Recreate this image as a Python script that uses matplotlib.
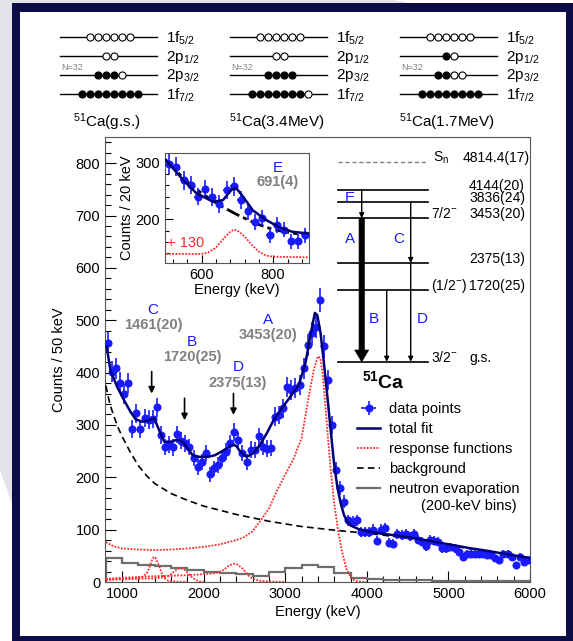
import numpy as np
import matplotlib
matplotlib.use("Agg")
import matplotlib.pyplot as plt
from matplotlib.patches import Rectangle, Polygon
from matplotlib.lines import Line2D
from matplotlib.ticker import MultipleLocator

plt.rcParams["font.family"] = ["Liberation Sans", "DejaVu Sans"]
plt.rcParams["mathtext.default"] = "regular"

W, H = 573, 641

# ---------------------------------------------------------------------------
# 51Ca neutron spectrum, 50 keV bins
# ---------------------------------------------------------------------------
energy = np.arange(825, 6000, 50)
counts = [457, 402, 408, 381, 359, 380, 293, 322, 293, 313, 310, 311, 334, 281,
          258, 262, 257, 282, 270, 265, 258, 236, 220, 230, 246, 206, 217, 223,
          236, 249, 265, 287, 271, 246, 230, 253, 252, 278, 258, 255, 256, 316,
          319, 332, 373, 367, 370, 376, 408, 453, 475, 488, 539, 450, 386, 300,
          214, 179, 153, 118, 115, 118, 96, 96, 96, 100, 79, 100, 103, 75, 73,
          92, 89, 92, 87, 92, 81, 77, 68, 80, 79, 77, 64, 64, 67, 64, 58, 48,
          53, 53, 54, 53, 54, 51, 51, 45, 42, 53, 54, 48, 32, 48, 39, 42]

fit_e = [810, 856, 938, 1021, 1103, 1165, 1247, 1330, 1392, 1454, 1515, 1598,
         1680, 1742, 1804, 1866, 1948, 2052, 2134, 2217, 2299, 2360, 2400, 2443,
         2526, 2608, 2690, 2773, 2856, 2959, 3062, 3165, 3247, 3309, 3363, 3392,
         3433, 3474, 3516, 3557, 3598, 3640, 3680, 3720, 3760, 3800, 3900, 4000,
         4250, 4500, 4750, 5000, 5250, 5500, 5750, 6000]
fit_c = [450, 405, 373, 348, 325, 311, 306, 309, 313, 290, 268, 268,
         272, 268, 255, 242, 239, 239, 242, 249, 257, 262, 260, 250,
         239, 246, 262, 284, 309, 332, 354, 376, 418, 472, 514, 510,
         475, 418, 354, 290, 226, 180, 150, 128, 115, 108, 101, 97,
         91, 86, 79, 72, 65, 59, 52, 46]

bg_e = [800, 850, 900, 950, 1000, 1100, 1200, 1300, 1400, 1600, 1800, 2000,
        2400, 2800, 3200, 3600, 4000, 4500, 5000, 5500, 6000]
bg_c = [375, 340, 316, 295, 278, 248, 222, 203, 188, 169, 156, 145,
        129, 116, 106, 99, 93, 84, 70, 58, 45]

# response functions for transitions A, C, B, D
respA_e = [800, 900, 1000, 1200, 1400, 1600, 1800, 2000, 2200, 2400, 2500, 2600,
           2700, 2800, 2900, 3000, 3100, 3150, 3200, 3250, 3300, 3350, 3400,
           3430, 3460, 3500, 3550, 3600, 3650, 3700, 3750, 3800, 3850, 3900, 4000]
respA_c = [76, 68, 64, 62, 61, 62, 64, 67, 72, 80, 86, 97,
           118, 140, 175, 205, 235, 255, 275, 320, 365, 405, 431,
           428, 395, 320, 225, 150, 95, 55, 25, 10, 3, 1, 0]
respC_e = [800, 1000, 1200, 1250, 1300, 1340, 1370, 1390, 1410, 1450, 1490,
           1530, 1570, 1650, 1800]
respC_c = [5, 6, 8, 10, 16, 30, 44, 48, 46, 32, 15, 6, 2, 1, 0]
respB_e = [800, 1000, 1200, 1400, 1550, 1600, 1650, 1700, 1730, 1760, 1800,
           1850, 1900, 1950, 2000]
respB_c = [4, 5, 6, 7, 10, 15, 22, 26, 26, 24, 18, 10, 4, 1, 0]
respD_e = [800, 1000, 1400, 1800, 2000, 2100, 2200, 2250, 2300, 2350, 2380,
           2420, 2480, 2550, 2600, 2700, 2800, 3000]
respD_c = [6, 8, 11, 13, 15, 16, 19, 24, 30, 34, 35, 33, 25, 12, 6, 2, 1, 0]

# neutron evaporation, 200 keV bins
evap_edges = np.arange(800, 6001, 200)
evap_c = [45, 37, 33, 30, 26, 22, 20, 17, 15, 12, 20, 27, 33, 28, 18, 8,
          5, 4, 3, 3, 2, 2, 2, 2, 1, 1]

# peak labels: letter, energy text, label position, arrow position
peak_names = ["C", "B", "D", "A"]
peak_text = ["1461(20)", "1720(25)", "2375(13)", "3453(20)"]
peak_lab_e = [1378, 1857, 2420, 2788]
peak_lab_c = [519, 458, 410, 500]
arrow_e = [1362, 1765, 2365]
arrow_top = [402, 351, 360]
arrow_tip = [360, 309, 319]

# ---------------------------------------------------------------------------
# inset: low-energy region, 20 keV bins
# ---------------------------------------------------------------------------
in_energy = np.arange(510, 900, 20)
in_counts = [298, 293, 269, 261, 240, 253, 239, 227, 251, 258, 234, 214, 196,
             202, 172, 190, 182, 161, 161, 172]
in_fit_e = [500, 549, 586, 632, 660, 683, 697, 716, 743, 780, 817, 854, 900]
in_fit_c = [305, 269, 246, 231, 234, 252, 255, 240, 216, 199, 186, 178, 175]
in_bg_e = [500, 550, 600, 650, 700, 750, 800, 850, 900]
in_bg_c = [305, 272, 246, 225, 208, 193, 182, 176, 172]
in_resp_e = [500, 600, 620, 640, 660, 680, 690, 700, 720, 740, 760, 780, 800, 900]
in_resp_c = [139, 139, 142, 150, 165, 178, 182, 180, 170, 155, 143, 136, 134, 133]

# ---------------------------------------------------------------------------
# level scheme of 51Ca (keV)
# ---------------------------------------------------------------------------
s_n = 4814.4
levels = [4144, 3836, 3453, 2375, 1720, 0]
level_text = ["4144(20)", "3836(24)", "3453(20)", "2375(13)", "1720(25)", "g.s."]
level_spin = ["", "", "7/2$^{-}$", "", "(1/2$^{-}$)", "3/2$^{-}$"]

# ---------------------------------------------------------------------------
# shell-model configurations
# ---------------------------------------------------------------------------
orbitals = ["1f$_{5/2}$", "2p$_{1/2}$", "2p$_{3/2}$", "1f$_{7/2}$"]
capacity = [6, 2, 4, 8]
states = ["$^{51}$Ca(g.s.)", "$^{51}$Ca(3.4MeV)", "$^{51}$Ca(1.7MeV)"]
filled = [[0, 0, 3, 8], [0, 0, 4, 7], [0, 1, 2, 8]]


def box(left, top, right, bottom):
    return [left / W, 1 - bottom / H, (right - left) / W, (bottom - top) / H]


BLUE = "#1a1aff"
NAVY = "#000078"
RED = "#ff2a2a"
GRAY = "#808080"

fig = plt.figure(figsize=(W / 100, H / 100), dpi=100)
fig.patch.set_facecolor("#e4e4e8")

# slide background and frame
bg = fig.add_axes([0, 0, 1, 1], zorder=-5)
bg.set_xlim(0, W)
bg.set_ylim(H, 0)
bg.axis("off")
bg.add_patch(Polygon([[395, 0], [W, 0], [W, 40]], closed=True, fc="white", ec="none"))
bg.add_patch(Polygon([[0, 470], [0, H], [60, H]], closed=True, fc="white", ec="none"))
bg.add_patch(Rectangle((12, 3), W, H, fc="#0c0c46", ec="none"))
bg.add_patch(Rectangle((20, 12), 546, 624, fc="white", ec="none"))

# shell diagrams
row_y = [37, 56, 75, 94]
starts = [60, 230, 400]
for s, st in enumerate(states):
    x0 = starts[s]
    for k in range(4):
        bg.plot([x0, x0 + 97], [row_y[k], row_y[k]], color="k", lw=1.0)
        n = capacity[k]
        xs = x0 + 50 + (np.arange(n) - (n - 1) / 2) * 8
        nf = filled[s][k]
        bg.scatter(xs[:nf], [row_y[k]] * nf, s=26, c="k", edgecolors="k",
                   linewidths=0.8, zorder=3)
        bg.scatter(xs[nf:], [row_y[k]] * (n - nf), s=26, c="white",
                   edgecolors="k", linewidths=0.8, zorder=3)
        bg.text(x0 + 106, row_y[k] + 1, orbitals[k], fontsize=11, va="center")
    bg.text(x0 + 1, row_y[2] - 7, "N=32", fontsize=6.5, color=GRAY, va="center")
    bg.text(x0 + 47, 122, st, fontsize=11, ha="center", va="center")

# ---------------------------------------------------------------------------
# main spectrum
# ---------------------------------------------------------------------------
ax = fig.add_axes(box(105, 137, 530, 582))
ax.set_xlim(790, 6000)
ax.set_ylim(0, 850)

data_h = ax.errorbar(energy, counts, yerr=np.sqrt(counts), xerr=25, fmt="o",
                     ms=4.8, color=BLUE, elinewidth=1.2, capsize=0, zorder=5)
fit_h, = ax.plot(fit_e, fit_c, color=NAVY, lw=1.8, zorder=6)
dots = (0, (1, 0.8))
resp_h, = ax.plot(respA_e, respA_c, color=RED, lw=1.3, ls=dots, zorder=4)
for re_, rc_ in [(respC_e, respC_c), (respB_e, respB_c), (respD_e, respD_c)]:
    ax.plot(re_, rc_, color=RED, lw=1.3, ls=dots, zorder=4)
bg_h, = ax.plot(bg_e, bg_c, color="k", lw=1.2, ls=(0, (4, 2.5)), zorder=3)
ax.stairs(evap_c, evap_edges, color="#6e6e6e", lw=1.6, zorder=2)
evap_h = Line2D([], [], color="#6e6e6e", lw=1.6)

for name, txt, le, lc in zip(peak_names, peak_text, peak_lab_e, peak_lab_c):
    ax.text(le, lc, name, color=BLUE, fontsize=11, ha="center", va="center")
    ax.text(le, lc - 29, txt, color=GRAY, fontsize=10.5, fontweight="bold",
            ha="center", va="center")
for xe, yt, yb in zip(arrow_e, arrow_top, arrow_tip):
    ax.annotate("", xy=(xe, yb), xytext=(xe, yt),
                arrowprops=dict(arrowstyle="-|>", color="k", lw=1.2,
                                mutation_scale=9, shrinkA=0, shrinkB=0))

ax.xaxis.set_major_locator(MultipleLocator(1000))
ax.xaxis.set_minor_locator(MultipleLocator(200))
ax.yaxis.set_major_locator(MultipleLocator(100))
ax.yaxis.set_minor_locator(MultipleLocator(20))
ax.tick_params(which="both", direction="in", top=False, right=False, labelsize=10.5)
ax.tick_params(which="major", length=8, width=0.8)
ax.tick_params(which="minor", length=4, width=0.8)
ax.set_xlabel("Energy (keV)", fontsize=10.5)
ax.set_ylabel("Counts / 50 keV", fontsize=10.5)
ax.xaxis.set_label_coords(0.5, -0.052)
ax.yaxis.set_label_coords(-0.092, 0.5)
for sp in ax.spines.values():
    sp.set_linewidth(0.8)
    sp.set_color("#555555")

leg = ax.legend([data_h, fit_h, resp_h, bg_h, evap_h],
                ["data points", "total fit", "response functions", "background",
                 "neutron evaporation"],
                loc="upper left", bbox_to_anchor=((357 - 105) / 425, (582 - 402) / 445),
                frameon=False, fontsize=10.5, handlelength=1.6, handletextpad=0.6,
                labelspacing=0.42, borderpad=0, borderaxespad=0)
ax.text((517 - 105) / 425, (582 - 506) / 445, "(200-keV bins)", transform=ax.transAxes,
        fontsize=10.5, ha="right", va="center")

# ---------------------------------------------------------------------------
# inset
# ---------------------------------------------------------------------------
ai = fig.add_axes(box(165, 153, 309, 263), zorder=10)
ai.set_facecolor("white")
ai.set_xlim(498, 900)
ai.set_ylim(123, 317)
ai.errorbar(in_energy, in_counts, yerr=np.sqrt(in_counts), xerr=10, fmt="o",
            ms=4.8, color=BLUE, elinewidth=1.2, capsize=0, zorder=5)
ai.plot(in_fit_e, in_fit_c, color=NAVY, lw=1.8, zorder=6)
ai.plot(in_bg_e, in_bg_c, color="k", lw=2.0, ls=(0, (5, 1.5, 1.5, 1.5)), zorder=4)
ai.plot(in_resp_e, in_resp_c, color=RED, lw=1.3, ls=dots, zorder=3)
ai.text(556, 158, "+ 130", color=RED, fontsize=10.5, ha="center", va="center")
ai.text(813, 290, "E", color=BLUE, fontsize=11, ha="center", va="center")
ai.text(813, 265, "691(4)", color=GRAY, fontsize=10.5, fontweight="bold",
        ha="center", va="center")
ai.xaxis.set_major_locator(MultipleLocator(200))
ai.xaxis.set_minor_locator(MultipleLocator(40))
ai.yaxis.set_major_locator(MultipleLocator(100))
ai.yaxis.set_minor_locator(MultipleLocator(20))
ai.tick_params(which="both", direction="in", top=False, right=False, labelsize=10.5)
ai.tick_params(which="major", length=6, width=0.8)
ai.tick_params(which="minor", length=3, width=0.8)
ai.set_xlabel("Energy (keV)", fontsize=10.5, labelpad=1)
ai.set_ylabel("Counts / 20 keV", fontsize=10.5)
ai.yaxis.set_label_coords((134 - 165) / 144, 0.5)
for sp in ai.spines.values():
    sp.set_linewidth(0.8)
    sp.set_color("#555555")

# ---------------------------------------------------------------------------
# level scheme
# ---------------------------------------------------------------------------
al = fig.add_axes(box(320, 145, 560, 395), zorder=11)
al.set_xlim(320, 560)
al.set_ylim(-801, 5215)
al.axis("off")
al.plot([338, 428], [s_n, s_n], color=GRAY, lw=1.0, ls=(0, (3, 2)))
al.text(433, s_n, "S$_n$", fontsize=10, va="baseline")
al.text(463, s_n, "4814.4(17)", fontsize=10, va="baseline")
for lv, lt, ls_ in zip(levels, level_text, level_spin):
    al.plot([338, 428], [lv, lv], color="k", lw=1.2)
    al.text(469, lv, lt, fontsize=10, va="baseline")
    if ls_:
        al.text(431, lv, ls_, fontsize=10, va="baseline")

thin = dict(arrowstyle="-|>", color="k", lw=1.0, mutation_scale=7, shrinkA=0, shrinkB=0)
al.annotate("", xy=(361.7, 3453), xytext=(361.7, 4144), arrowprops=thin)
al.annotate("", xy=(410.7, 2375), xytext=(410.7, 3836), arrowprops=thin)
al.annotate("", xy=(410.7, 0), xytext=(410.7, 2375), arrowprops=thin)
al.annotate("", xy=(386.7, 0), xytext=(386.7, 1720), arrowprops=thin)
al.annotate("", xy=(361.7, 0), xytext=(361.7, 3453),
            arrowprops=dict(arrowstyle="simple,head_length=0.42,head_width=0.5,tail_width=0.19",
                            fc="k", ec="k", lw=0.5, mutation_scale=20, shrinkA=0, shrinkB=0))
for lab, lx, ly in [("E", 350, 3933), ("A", 350, 2946), ("C", 399, 2946),
                    ("B", 374, 1020), ("D", 422.7, 1020)]:
    al.text(lx, ly, lab, color=BLUE, fontsize=11, ha="center", va="center")
al.text(383.5, -464, "$^{51}$Ca", fontsize=14, fontweight="bold", ha="center", va="center")

fig.savefig("out.png", dpi=100, facecolor=fig.get_facecolor())
